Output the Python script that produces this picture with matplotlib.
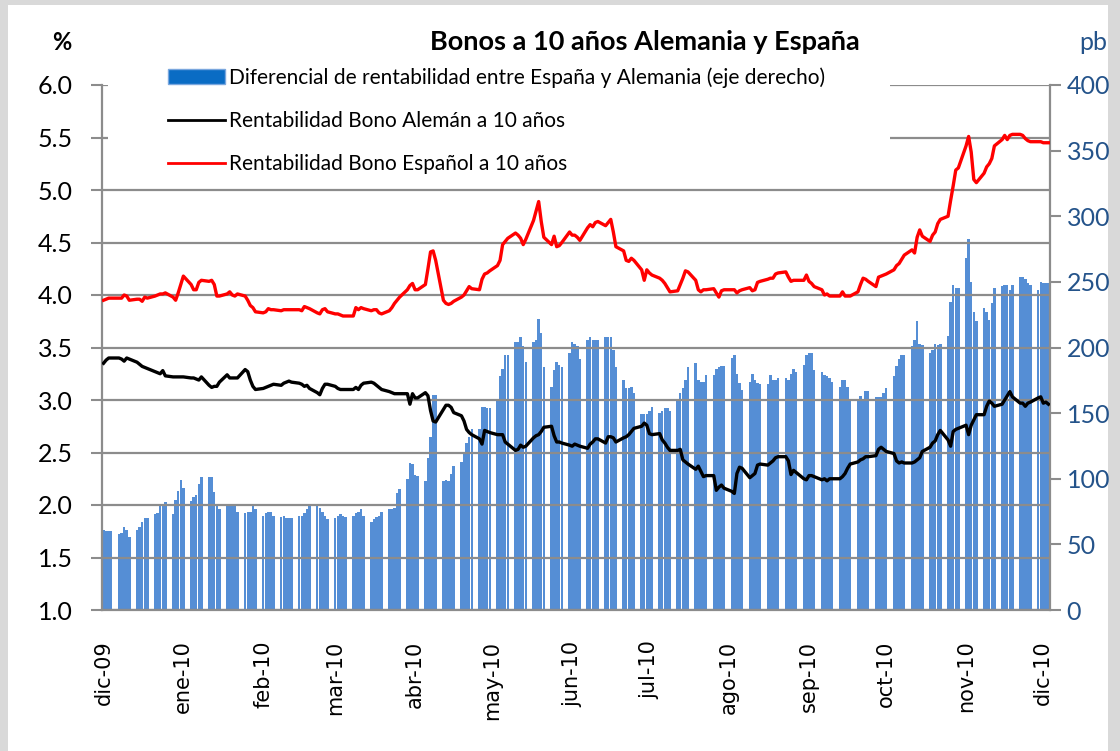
#### ライブラリのインポート ####
import numpy as np
import pandas as pd
import matplotlib
matplotlib.use("Agg")
import matplotlib.pyplot as plt
import matplotlib.dates as mdates
from matplotlib.patches import Patch, Rectangle
from matplotlib.lines import Line2D

plt.rcParams["font.family"] = ["Lato", "DejaVu Sans"]

#### datos (un valor por día hábil, 01-12-2009 a 03-12-2010) ####
fechas = pd.bdate_range("2009-12-01", "2010-12-03")

# Diferencial de rentabilidad España - Alemania (pb)
diferencial = [
    61, 60, 60, 60, 58, 59, 63, 61, 56, 61, 63, 67, 70, 70, 73, 74, 80, 81, 82, 73, 84, 91, 99,  # dic-09
    93, 83, 86, 88, 96, 101, 101, 101, 90, 79, 77, 80, 81, 81, 79, 75, 74, 75, 75, 80, 77,  # ene-10
    72, 74, 75, 75, 72, 71, 72, 70, 70, 70, 72, 72, 74, 77, 79, 79, 78, 75, 72, 69,  # feb-10
    70, 72, 73, 72, 71, 72, 74, 75, 77, 72, 67, 69, 71, 72, 75, 77, 77, 78, 89, 92, 100, 112, 111,  # mar-10
    103, 102, 98, 116, 132, 164, 164, 98, 99, 98, 104, 110, 113, 119, 127, 132, 138, 138, 155, 155, 154, 154,  # abr-10
    160, 178, 184, 194, 194, 204, 204, 208, 201, 189, 204, 206, 222, 211, 185, 170, 183, 189, 187, 185, 196,  # may-10
    204, 203, 201, 191, 206, 208, 206, 206, 206, 208, 208, 208, 198, 185, 175, 169, 169, 170, 165, 149, 149, 149,  # jun-10
    152, 155, 150, 152, 154, 154, 152, 159, 165, 169, 175, 185, 188, 175, 174, 174, 179, 179, 184, 185, 186, 186,  # jul-10
    192, 194, 180, 173, 168, 174, 180, 175, 173, 172, 172, 179, 175, 175, 177, 177, 175, 180, 184, 181, 187, 194,  # ago-10
    196, 196, 183, 181, 179, 178, 177, 174, 170, 175, 175, 170, 161, 161, 163, 161, 167, 167, 162, 162, 162, 165,  # sep-10
    169, 178, 186, 191, 194, 194, 201, 206, 220, 203, 202, 196, 198, 203, 202, 203, 209, 235, 248, 245, 245,  # oct-10
    268, 283, 250, 227, 220, 230, 227, 221, 234, 245, 247, 248, 248, 244, 248, 254, 254, 252, 249, 248, 244, 250,  # nov-10
    249, 249, 249,  # dic-10
]

# Rentabilidad Bono Alemán a 10 años (%)
aleman = [
    3.35, 3.38, 3.40, 3.40, 3.40, 3.39, 3.37, 3.40, 3.39, 3.36, 3.34, 3.32, 3.31, 3.30, 3.27, 3.26, 3.25, 3.28, 3.23, 3.22, 3.22, 3.22, 3.22,
    3.22, 3.21, 3.21, 3.20, 3.19, 3.22, 3.14, 3.12, 3.13, 3.13, 3.17, 3.24, 3.21, 3.21, 3.21, 3.21, 3.29, 3.27, 3.19, 3.13, 3.10,
    3.11, 3.12, 3.13, 3.14, 3.15, 3.14, 3.16, 3.17, 3.18, 3.17, 3.16, 3.15, 3.13, 3.14, 3.11, 3.07, 3.05, 3.11, 3.15, 3.15,
    3.13, 3.11, 3.10, 3.10, 3.10, 3.10, 3.12, 3.10, 3.14, 3.16, 3.17, 3.16, 3.14, 3.12, 3.10, 3.08, 3.07, 3.06, 3.06, 3.06, 3.06, 2.96, 3.06,
    3.02, 3.02, 3.07, 3.04, 2.90, 2.80, 2.79, 2.91, 2.95, 2.95, 2.93, 2.88, 2.85, 2.80, 2.72, 2.69, 2.67, 2.63, 2.58, 2.71, 2.70, 2.69,
    2.67, 2.67, 2.67, 2.60, 2.58, 2.52, 2.53, 2.57, 2.55, 2.56, 2.64, 2.66, 2.67, 2.70, 2.74, 2.75, 2.66, 2.60, 2.60, 2.59, 2.57,
    2.56, 2.58, 2.57, 2.56, 2.54, 2.58, 2.60, 2.63, 2.63, 2.59, 2.65, 2.65, 2.64, 2.60, 2.64, 2.65, 2.67, 2.70, 2.73, 2.75, 2.78, 2.76,
    2.68, 2.67, 2.68, 2.62, 2.59, 2.55, 2.52, 2.52, 2.53, 2.43, 2.41, 2.39, 2.34, 2.37, 2.32, 2.27, 2.28, 2.28, 2.14, 2.17, 2.19, 2.16,
    2.13, 2.11, 2.30, 2.36, 2.35, 2.26, 2.28, 2.30, 2.38, 2.39, 2.38, 2.40, 2.42, 2.45, 2.46, 2.46, 2.42, 2.29, 2.33, 2.31, 2.25, 2.24,
    2.28, 2.28, 2.27, 2.24, 2.25, 2.23, 2.25, 2.25, 2.25, 2.27, 2.30, 2.35, 2.39, 2.41, 2.43, 2.44, 2.46, 2.46, 2.47, 2.53, 2.55, 2.53,
    2.51, 2.49, 2.42, 2.40, 2.41, 2.40, 2.40, 2.41, 2.43, 2.45, 2.51, 2.55, 2.59, 2.61, 2.67, 2.71, 2.62, 2.56, 2.70, 2.72, 2.73,
    2.76, 2.67, 2.76, 2.81, 2.86, 2.86, 2.94, 2.99, 2.97, 2.94, 2.96, 3.00, 3.04, 3.08, 3.03, 2.97, 2.97, 2.94, 2.97, 2.98, 3.02, 3.03,
    2.97, 2.98, 2.96,
]

# Rentabilidad Bono Español a 10 años (%)
espanol = [
    3.95, 3.96, 3.97, 3.97, 3.97, 3.97, 4.00, 3.99, 3.95, 3.96, 3.96, 3.94, 3.98, 3.97, 3.99, 4.00, 4.01, 4.01, 4.02, 3.98, 3.95, 4.02, 4.10,
    4.18, 4.10, 4.05, 4.05, 4.12, 4.14, 4.13, 4.14, 4.10, 3.99, 3.99, 4.01, 4.03, 4.00, 3.99, 4.01, 3.99, 3.95, 3.90, 3.88, 3.84,
    3.83, 3.84, 3.87, 3.86, 3.86, 3.85, 3.86, 3.86, 3.86, 3.86, 3.86, 3.85, 3.89, 3.88, 3.87, 3.83, 3.82, 3.86, 3.87, 3.84,
    3.82, 3.82, 3.81, 3.80, 3.80, 3.80, 3.88, 3.86, 3.88, 3.87, 3.85, 3.86, 3.86, 3.83, 3.82, 3.85, 3.88, 3.92, 3.95, 3.98, 4.05, 4.09, 4.11,
    4.05, 4.05, 4.10, 4.25, 4.41, 4.42, 4.33, 3.95, 3.92, 3.91, 3.92, 3.94, 3.98, 4.00, 4.04, 4.08, 4.06, 4.05, 4.15, 4.20, 4.21, 4.23,
    4.28, 4.33, 4.48, 4.51, 4.54, 4.59, 4.57, 4.54, 4.48, 4.53, 4.71, 4.80, 4.89, 4.70, 4.55, 4.48, 4.56, 4.46, 4.47, 4.50, 4.60,
    4.57, 4.57, 4.55, 4.52, 4.64, 4.67, 4.65, 4.69, 4.70, 4.66, 4.69, 4.72, 4.60, 4.46, 4.42, 4.33, 4.32, 4.35, 4.33, 4.24, 4.14, 4.24,
    4.21, 4.19, 4.16, 4.14, 4.11, 4.07, 4.03, 4.04, 4.10, 4.16, 4.23, 4.22, 4.14, 4.05, 4.03, 4.05, 4.05, 4.06, 4.02, 3.98, 4.04, 4.05,
    4.05, 4.05, 4.02, 4.04, 4.05, 4.07, 4.04, 4.05, 4.12, 4.13, 4.15, 4.16, 4.16, 4.20, 4.21, 4.22, 4.17, 4.13, 4.14, 4.14, 4.14, 4.19,
    4.13, 4.11, 4.08, 4.05, 4.00, 4.01, 3.99, 3.99, 3.99, 4.03, 3.99, 3.99, 3.99, 4.03, 4.10, 4.16, 4.15, 4.13, 4.08, 4.17, 4.18, 4.19,
    4.20, 4.24, 4.28, 4.30, 4.34, 4.38, 4.43, 4.40, 4.55, 4.62, 4.56, 4.51, 4.57, 4.60, 4.68, 4.72, 4.75, 4.90, 5.04, 5.19, 5.21,
    5.42, 5.51, 5.36, 5.10, 5.07, 5.16, 5.22, 5.25, 5.30, 5.42, 5.48, 5.52, 5.48, 5.52, 5.53, 5.53, 5.52, 5.49, 5.47, 5.46, 5.46, 5.46,
    5.45, 5.45, 5.45,
]

meses = ["dic-09", "ene-10", "feb-10", "mar-10", "abr-10", "may-10", "jun-10",
         "jul-10", "ago-10", "sep-10", "oct-10", "nov-10", "dic-10"]
inicio_meses = pd.date_range("2009-12-01", "2010-12-01", freq="MS")

assert len(fechas) == len(diferencial) == len(aleman) == len(espanol)

#### figura ####
W, H = 1120, 751
fig = plt.figure(figsize=(W / 100, H / 100), dpi=100, facecolor="#d9d9d9")
fig.patches.append(Rectangle((8 / W, 0), 1100 / W, 746 / H, transform=fig.transFigure,
                             facecolor="white", edgecolor="none", zorder=-10))

ax = fig.add_axes([102 / W, 1 - 610 / H, 948 / W, 525 / H])
ax2 = ax.twinx()
ax.set_zorder(ax2.get_zorder() + 1)
ax.patch.set_visible(False)

x = mdates.date2num(fechas)
gris = "#8c8c8c"

# barras (eje derecho)
ax2.bar(x, diferencial, width=0.95, color="#558ed5", linewidth=0)

# lineas (eje izquierdo)
ax.plot(x, aleman, color="black", lw=2.4, zorder=3)
ax.plot(x, espanol, color="red", lw=2.4, zorder=3)

# ejes
ax.set_xlim(x[0] - 0.6, x[-1] + 0.6)
ax.set_ylim(1, 6)
ax.set_yticks(np.arange(1.0, 6.01, 0.5))
ax.set_yticklabels([f"{v:.1f}" for v in np.arange(1.0, 6.01, 0.5)])
ax2.set_ylim(0, 400)
ax2.set_yticks(range(0, 401, 50))

ax.set_xticks(mdates.date2num(inicio_meses))
ax.set_xticklabels(meses, rotation=90, fontfamily="DejaVu Sans", fontsize=15)
ax.tick_params(axis="x", length=0, pad=22)
ax.tick_params(axis="y", direction="out", length=8, width=1.5, color=gris,
               labelsize=18, pad=13)
ax2.tick_params(axis="y", direction="out", length=8, width=1.5, color=gris,
                labelsize=18, pad=4, labelcolor="#24538a")

ax.yaxis.grid(True, color=gris, lw=1.6)
ax.set_axisbelow(True)
for s in ["top", "right"]:
    ax.spines[s].set_visible(False)
for s in ["top", "left", "bottom"]:
    ax2.spines[s].set_visible(False)
for a, s in [(ax, "left"), (ax, "bottom"), (ax2, "right")]:
    a.spines[s].set_color(gris)
    a.spines[s].set_linewidth(1.6)

# fondo blanco de la leyenda sobre las lineas de cuadricula
ax.add_patch(Rectangle((0.006, 0.81), 0.825, 0.19, transform=ax.transAxes,
                       facecolor="white", edgecolor="none", zorder=1))

# leyenda
handles = [Patch(facecolor="#0a6cc4", edgecolor="#7aa7de", linewidth=1),
           Line2D([], [], color="black", lw=2),
           Line2D([], [], color="red", lw=2)]
labels = ["Diferencial de rentabilidad entre España y Alemania (eje derecho)",
          "Rentabilidad Bono Alemán a 10 años",
          "Rentabilidad Bono Español a 10 años"]
fig.legend(handles, labels, loc="upper left", bbox_to_anchor=(168 / W, 1 - 67 / H),
           frameon=False, fontsize=15, handlelength=2.75, handletextpad=0.2,
           labelspacing=1.12, borderpad=0, borderaxespad=0)

# titulos
fig.text(645 / W, 1 - 42 / H, "Bonos a 10 años Alemania y España", ha="center",
         va="center", fontsize=19.5, fontweight="bold")
fig.text(62 / W, 1 - 42 / H, "%", ha="center", va="center", fontsize=17, fontweight="bold")
fig.text(1093 / W, 1 - 42 / H, "pb", ha="center", va="center", fontsize=18, color="#24538a")

plt.savefig("out.png", dpi=100, facecolor=fig.get_facecolor())
